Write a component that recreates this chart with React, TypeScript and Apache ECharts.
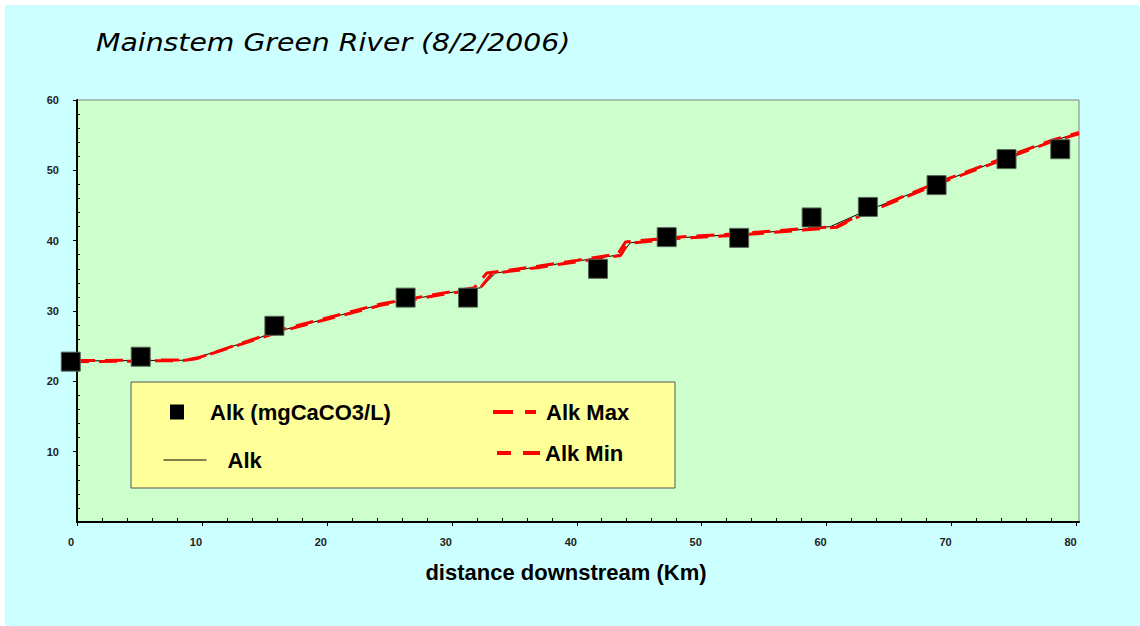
import React, { useEffect, useRef } from "react";
import * as echarts from "echarts";

// Observed alkalinity (mgCaCO3/L) vs distance downstream (km)
const obsDistance = [-0.5, 5.1, 15.8, 26.3, 31.3, 41.7, 47.2, 53.0, 58.8, 63.3, 68.8, 74.4, 78.7];
const obsAlk = [22.8, 23.5, 27.9, 31.9, 31.9, 36.0, 40.5, 40.4, 43.3, 44.8, 47.9, 51.6, 53.0];

// Modelled Alk
const modelDistance = [0, 8.5, 9.5, 16.5, 24.3, 29.1, 32.3, 33.5, 37, 40, 43.5, 44.3, 48, 53, 58.1, 60.3, 62.7, 68.8, 75.3, 77.9, 80.2];
const modelAlk = [22.9, 23.0, 23.3, 27.3, 30.9, 32.4, 33.3, 35.4, 36.3, 37.1, 38.0, 39.7, 40.4, 40.9, 41.6, 42.0, 43.9, 48.1, 52.4, 54.1, 55.3];

// Alk Max
const maxDistance = [0, 8.8, 9.8, 16.5, 24.3, 29.1, 31.8, 32.8, 37, 40, 43.3, 43.9, 48, 53, 58.1, 60.8, 63.0, 68.8, 75.3, 77.9, 80.2];
const maxAlk = [22.95, 23.05, 23.4, 27.4, 31.0, 32.5, 33.3, 35.4, 36.4, 37.2, 38.1, 39.8, 40.5, 41.0, 41.7, 42.0, 44.0, 48.2, 52.5, 54.2, 55.4];

// Alk Min
const minDistance = [0, 8.5, 9.5, 16.5, 24.3, 29.1, 32.2, 33.2, 37, 40, 43.5, 44.1, 48, 53, 58.1, 60.8, 63.0, 68.8, 75.3, 77.9, 80.2];
const minAlk = [22.8, 22.95, 23.2, 27.2, 30.8, 32.3, 33.1, 35.3, 36.2, 37.0, 37.9, 39.6, 40.3, 40.8, 41.5, 41.9, 43.8, 48.0, 52.3, 54.0, 55.2];

const xTicks = [0, 10, 20, 30, 40, 50, 60, 70, 80];
const yTicks = [0, 10, 20, 30, 40, 50, 60];

const zip = (xs: number[], ys: number[]) => xs.map((x, i) => [x, ys[i]]);

const NARROW = '"Liberation Sans Narrow", "Arial Narrow", "Liberation Sans", Arial, sans-serif';
const SANS = '"Liberation Sans", Arial, sans-serif';

export default function App() {
  const ref = useRef<HTMLDivElement>(null);
  useEffect(() => {
    document.body.style.margin = "0";
    const chart = echarts.init(ref.current!, null, { renderer: "svg" });
    const xMin = xTicks[0];
    const xMax = 80.2;
    const yMin = yTicks[0];
    const yMax = yTicks[yTicks.length - 1];
    const dashed = [18, 10];
    const legendText = { fontFamily: SANS, fontWeight: "bold", fontSize: 22, color: "#000" };
    const hiddenSymbol = { color: "transparent", borderWidth: 0, opacity: 0 };
    chart.setOption({
      animation: false,
      backgroundColor: "#FFFFFF",
      graphic: [
        { type: "rect", z: -100, silent: true, shape: { x: 5, y: 5, width: 1135, height: 621 }, style: { fill: "#CCFFFF" } },
        { type: "rect", z: 1, silent: true, shape: { x: 131, y: 382, width: 544, height: 106 }, style: { fill: "#FFFF99", stroke: "#555555", lineWidth: 1 } },
        {
          type: "text",
          x: 96,
          y: 43,
          scaleX: 1.18,
          style: {
            text: "Mainstem Green River (8/2/2006)",
            fontFamily: '"DejaVu Sans", sans-serif',
            fontStyle: "italic",
            fontSize: 24,
            fill: "#000",
            verticalAlign: "middle",
          },
        },
      ],
      grid: {
        left: 77,
        top: 100,
        right: 61,
        bottom: 104,
        show: true,
        backgroundColor: "#CCFFCC",
        borderColor: "#808080",
        borderWidth: 1,
      },
      legend: [
        { data: ["Alk (mgCaCO3/L)"], left: 170, top: 401, padding: 0, icon: "rect", itemWidth: 14, itemHeight: 15, itemStyle: { borderWidth: 0 }, textStyle: { ...legendText, padding: [0, 0, 0, 21] }, z: 5 },
        { data: ["Alk"], left: 163, top: 449, padding: 0, itemWidth: 43, itemHeight: 14, itemStyle: hiddenSymbol, lineStyle: { width: 1, color: "#000" }, textStyle: { ...legendText, padding: [0, 0, 0, 16] }, z: 5 },
        { data: ["Alk Max"], left: 491, top: 401, padding: 0, itemWidth: 43, itemHeight: 14, itemStyle: hiddenSymbol, lineStyle: { width: 4, color: "#FF0000", type: [20, 12] }, textStyle: { ...legendText, padding: [0, 0, 0, 5] }, z: 5 },
        { data: ["Alk Min"], left: 495, top: 442, padding: 0, itemWidth: 43, itemHeight: 14, itemStyle: hiddenSymbol, lineStyle: { width: 4, color: "#FF0000", type: [20, 12] }, textStyle: { ...legendText, padding: [0, 0, 0, 0] }, z: 5 },
      ],
      xAxis: [
        {
          type: "value",
          min: xMin,
          max: xMax,
          interval: 10,
          name: "distance downstream (Km)",
          nameLocation: "middle",
          nameGap: 39,
          nameTextStyle: { fontFamily: NARROW, fontWeight: "bold", fontSize: 22, color: "#000", padding: [0, 24, 0, 0] },
          axisLine: { show: true, onZero: false, lineStyle: { color: "#000", width: 2 } },
          axisTick: { show: true, inside: false, length: 4, lineStyle: { color: "#000", width: 1 } },
          axisLabel: { show: true, showMaxLabel: false, margin: 14, fontFamily: NARROW, fontWeight: "bold", fontSize: 11, color: "#222", padding: [0, 12, 0, 0] },
          splitLine: { show: false },
        },
        {
          type: "value",
          position: "bottom",
          min: xMin,
          max: xMax,
          interval: 10,
          axisLine: { show: false },
          axisTick: { show: false, inside: true },
          minorTick: { show: true, splitNumber: 5, length: 4, lineStyle: { color: "#000", width: 1 } },
          axisLabel: { show: false },
          splitLine: { show: false },
        },
      ],
      yAxis: [
        {
          type: "value",
          min: yMin,
          max: yMax,
          interval: 10,
          axisLine: { show: true, onZero: false, lineStyle: { color: "#000", width: 2 } },
          axisTick: { show: true, inside: false, length: 4, lineStyle: { color: "#000", width: 1 } },
          axisLabel: { show: true, showMinLabel: false, margin: 18, fontFamily: NARROW, fontWeight: "bold", fontSize: 11, color: "#222" },
          splitLine: { show: false },
        },
        {
          type: "value",
          position: "left",
          min: yMin,
          max: yMax,
          interval: 10,
          axisLine: { show: false },
          axisTick: { show: false, inside: true },
          minorTick: { show: true, splitNumber: 5, length: 3, lineStyle: { color: "#000", width: 1 } },
          axisLabel: { show: false },
          splitLine: { show: false },
        },
      ],
      series: [
        {
          name: "Alk",
          type: "line",
          data: zip(modelDistance, modelAlk),
          symbol: "none",
          lineStyle: { color: "#000", width: 1 },
          itemStyle: { color: "#000" },
          z: 2,
        },
        {
          name: "Alk Max",
          type: "line",
          data: zip(maxDistance, maxAlk),
          symbol: "none",
          lineStyle: { color: "#FF0000", width: 3, type: dashed },
          itemStyle: { color: "#FF0000" },
          z: 3,
        },
        {
          name: "Alk Min",
          type: "line",
          data: zip(minDistance, minAlk),
          symbol: "none",
          lineStyle: { color: "#FF0000", width: 3, type: dashed, dashOffset: 6 },
          itemStyle: { color: "#FF0000" },
          z: 3,
        },
        {
          name: "Alk (mgCaCO3/L)",
          type: "scatter",
          data: zip(obsDistance, obsAlk),
          symbol: "rect",
          symbolSize: 19,
          clip: false,
          itemStyle: { color: "#000", borderColor: "#556655", borderWidth: 1, opacity: 1 },
          z: 4,
        },
      ],
    });
    return () => chart.dispose();
  }, []);
  return <div ref={ref} style={{ width: 1140, height: 626 }} />;
}
